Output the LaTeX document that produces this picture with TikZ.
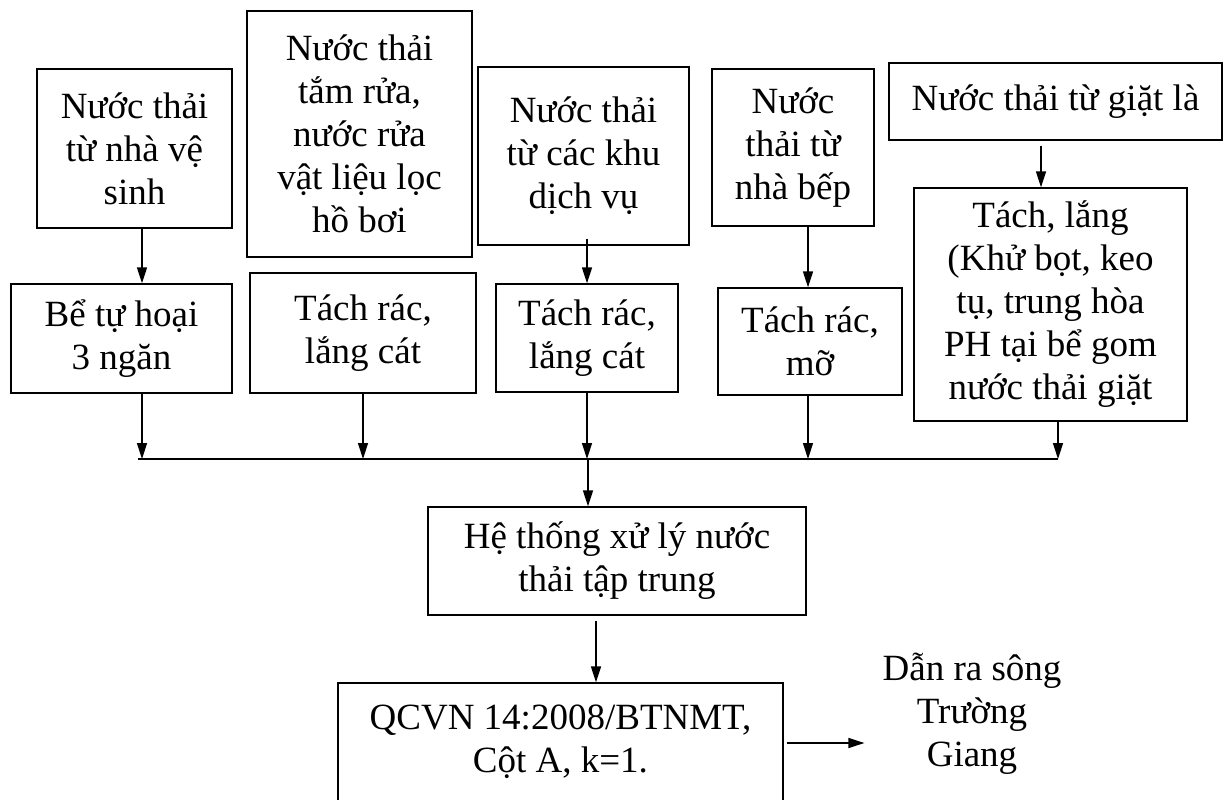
\documentclass[tikz,border=0pt]{standalone}
\usepackage{fontspec}
\setmainfont{Liberation Serif}
\usetikzlibrary{arrows.meta}
\begin{document}
\begin{tikzpicture}[x=1pt,y=-1pt,
  box/.style={draw, line width=1.3pt, inner sep=2pt, align=center, font=\fontsize{37}{43}\selectfont},
  lbl/.style={inner sep=0pt, align=center, font=\fontsize{37}{43}\selectfont},
  arr/.style={line width=1.4pt, -{Triangle[length=16pt,width=10pt]}},
  busline/.style={line width=1.4pt}]
\useasboundingbox (0,0) rectangle (1226,800);
\clip (0,0) rectangle (1226,800);

% top row
\node[box, minimum width=195pt, minimum height=159pt] (A1) at (134.5,148.5) {Nước thải\\từ nhà vệ\\sinh};
\node[box, minimum width=225pt, minimum height=246pt] (A2) at (359.5,134) {Nước thải\\tắm rửa,\\nước rửa\\vật liệu lọc\\hồ bơi};
\node[box, minimum width=211pt, minimum height=178pt] (A3) at (583.5,156) {Nước thải\\từ các khu\\dịch vụ};
\node[box, minimum width=162pt, minimum height=157pt] (A4) at (793,147.5) {Nước\\thải từ\\nhà bếp};
\node[box, minimum width=333pt, minimum height=77pt] (A5) at (1055.5,101.5) {Nước thải từ giặt là};

% second row
\node[box, minimum width=221pt, minimum height=109pt] (B1) at (121.5,338.5) {Bể tự hoại\\3 ngăn};
\node[box, minimum width=226pt, minimum height=120pt] (B2) at (363,333) {Tách rác,\\lắng cát};
\node[box, minimum width=182pt, minimum height=108pt] (B3) at (587,338) {Tách rác,\\lắng cát};
\node[box, minimum width=184pt, minimum height=107pt] (B4) at (810,341.5) {Tách rác,\\mỡ};
\node[box, minimum width=273pt, minimum height=233pt] (B5) at (1050.5,304.5) {Tách, lắng\\(Khử bọt, keo\\tụ, trung hòa\\PH tại bể gom\\nước thải giặt};

% lower part
\node[box, minimum width=378pt, minimum height=108pt] (C) at (617,561) {Hệ thống xử lý nước\\thải tập trung};
\node[box, minimum width=445pt, minimum height=118pt] (D) at (560.5,742) {QCVN 14:2008/BTNMT,\\Cột A, k=1.};
\node[lbl] (E) at (972,714) {Dẫn ra sông\\Trường\\Giang};

% x positions of connectors
\coordinate (xa1) at (142,0);
\coordinate (xa3) at (587,0);
\coordinate (xa4) at (808,0);
\coordinate (xa5) at (1041,0);
\coordinate (xb1) at (142,0);
\coordinate (xb2) at (363,0);
\coordinate (xb3) at (587,0);
\coordinate (xb4) at (808,0);
\coordinate (xb5) at (1058,0);
\coordinate (xc) at (588,0);
\coordinate (xd) at (596,0);
\coordinate (busy) at (0,459);
\coordinate (busL) at (138,459);
\coordinate (ye) at (0,743);
\coordinate (a3s) at ([yshift=7pt]A3.south);
\coordinate (a5s) at ([yshift=-5pt]A5.south);
\coordinate (cs) at ([yshift=-5pt]C.south);

% top to second row
\draw[arr] (A1.south -| xa1) -- (B1.north -| xa1);
\draw[arr] (a3s -| xa3) -- (B3.north -| xa3);
\draw[arr] (A4.south -| xa4) -- (B4.north -| xa4);
\draw[arr] (a5s -| xa5) -- (B5.north -| xa5);

% second row to collector
\draw[arr] (B1.south -| xb1) -- (xb1 |- busy);
\draw[arr] (B2.south -| xb2) -- (xb2 |- busy);
\draw[arr] (B3.south -| xb3) -- (xb3 |- busy);
\draw[arr] (B4.south -| xb4) -- (xb4 |- busy);
\draw[arr] (B5.south -| xb5) -- (xb5 |- busy);
\draw[busline] (busL) -- (xb5 |- busy);

% collector to treatment and outlet
\draw[arr] (xc |- busy) -- (C.north -| xc);
\draw[arr] (cs -| xd) -- (D.north -| xd);
\draw[arr, shorten <=3pt, shorten >=18pt] (D.east |- ye) -- (E.west |- ye);
\end{tikzpicture}
\end{document}
